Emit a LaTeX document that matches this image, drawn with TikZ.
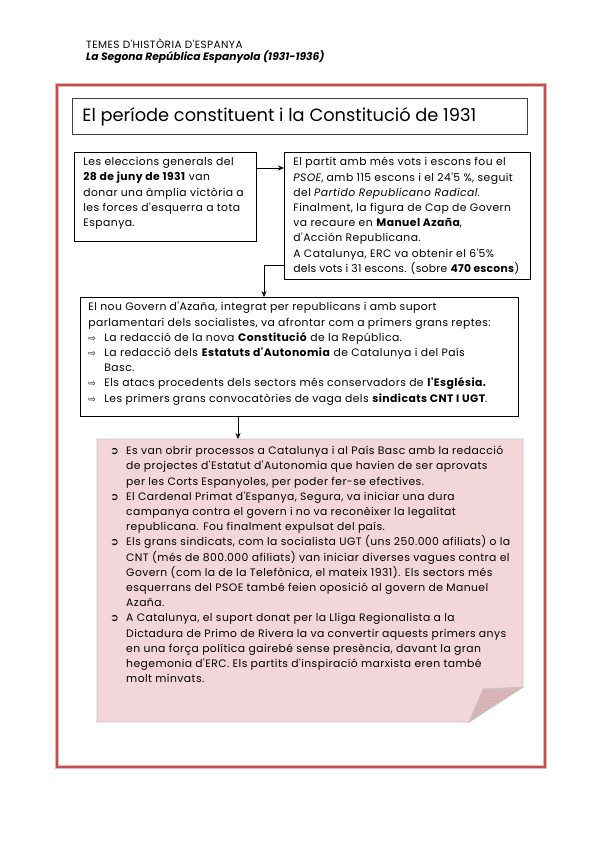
\documentclass[tikz,border=0pt]{standalone}
\usepackage{fontspec}
\setmainfont{Poppins}
\newfontfamily\cosfont{Poppins}[LetterSpace=4]
\newfontfamily\symfont{DejaVu Sans}
\usetikzlibrary{arrows.meta,patterns}

\definecolor{marcvermell}{RGB}{192,80,77}
\definecolor{marcclar}{RGB}{232,178,176}
\definecolor{rosa}{RGB}{242,214,217}
\definecolor{rosafosc}{RGB}{214,184,188}
\definecolor{vora}{RGB}{195,195,195}

\tikzset{
  caixa/.style={draw=black, line width=0.8pt, anchor=north west, inner ysep=5pt},
  fletxa/.style={-{Stealth[length=6pt,width=5pt]}, line width=0.6pt},
  cos/.style={font=\cosfont\fontsize{10.8}{15.2}\selectfont},
}
\newcommand{\fl}{\makebox[16pt][l]{{\symfont\fontsize{9}{9}\selectfont ⇨}}}
\newcommand{\bala}{\makebox[16pt][l]{{\symfont\fontsize{10.5}{10}\selectfont ➲}}}
\newcommand{\caixatext}[3]{\parbox[c][#2][t]{#1}{\raggedright #3}}

\begin{document}
\begin{tikzpicture}[x=1pt,y=-1pt]
\useasboundingbox (0,0) rectangle (599,848);

% capcalera
\node[anchor=west, inner sep=0pt, font=\cosfont\fontsize{10.5}{12}\selectfont] (capa) at (86,44) {TEMES D'HISTÒRIA D'ESPANYA};
\node[anchor=west, inner sep=0pt, font=\fontsize{10.7}{12}\selectfont\bfseries\itshape] (capb) at (86,57) {La Segona República Espanyola (1931-1936)};

% marc
\draw[marcclar, line width=3.2pt] (57,85) rectangle (545,767);
\draw[marcvermell, line width=1.6pt] (57,85) rectangle (545,767);

% titol
\node[draw=black!75, line width=0.8pt, anchor=north west, minimum width=455pt, minimum height=36pt,
      inner xsep=10pt, font=\fontsize{17.8}{20}\selectfont] (titol) at (72,98)
  {\makebox[435pt][l]{El període constituent i la Constitució de 1931}};

% caixes
\node[caixa, cos, inner xsep=9pt] (eleccions) at (74,152)
  {\caixatext{164pt}{79pt}{Les eleccions generals del\\
  \textbf{28 de juny de 1931} van\\
  donar una àmplia victòria a\\
  les forces d'esquerra a tota\\
  Espanya.}};

\node[caixa, cos, inner xsep=9pt] (partit) at (284,152)
  {\caixatext{228pt}{117pt}{El partit amb més vots i escons fou el\\
  \textit{PSOE}, amb 115 escons i el 24'5 \%, seguit\\
  del \textit{Partido Republicano Radical}.\\
  Finalment, la figura de Cap de Govern\\
  va recaure en \textbf{Manuel Azaña},\\
  d'Acción Republicana.\\
  A Catalunya, ERC va obtenir el 6'5\%\\
  \mbox{\addfontfeature{LetterSpace=2}dels vots i 31 escons. (sobre \textbf{470 escons})}}};

\node[caixa, cos, inner xsep=8pt] (govern) at (80,297)
  {\caixatext{422pt}{109pt}{El nou Govern d'Azaña, integrat per republicans i amb suport\\
  parlamentari dels socialistes, va afrontar com a primers grans reptes:\\
  \fl La redacció de la nova \textbf{Constitució} de la República.\\
  \fl La redacció dels \textbf{Estatuts d'Autonomia} de Catalunya i del País\\
  \hspace*{16pt}Basc.\\
  \fl Els atacs procedents dels sectors més conservadors de \textbf{l'Església.}\\
  \fl Les primers grans convocatòries de vaga dels \textbf{sindicats CNT I UGT}.}};

% nota rosa
\coordinate (rosatop) at (238,439);
\fill[rosa] (97,439) -- (523,439) -- (523,687) -- (469,722) -- (97,722) -- cycle;
\draw[vora, line width=0.8pt] (97,439) -- (523,439) -- (523,687) -- (469,722) -- (97,722) -- cycle;
\filldraw[fill=rosafosc, draw=vora, line width=0.6pt] (523,687) -- (483,689) -- (469,722) -- cycle;
\fill[pattern=dots, pattern color=red!55] (520,689) -- (485,691) -- (472,718) -- cycle;

\node[cos, anchor=north west, inner sep=0pt] (reptes) at (110,446)
  {\caixatext{405pt}{260pt}{\bala Es van obrir processos a Catalunya i al País Basc amb la redacció\\
  \hspace*{16pt}de projectes d'Estatut d'Autonomia que havien de ser aprovats\\
  \hspace*{16pt}per les Corts Espanyoles, per poder fer-se efectives.\\
  \bala El Cardenal Primat d'Espanya, Segura, va iniciar una dura\\
  \hspace*{16pt}campanya contra el govern i no va reconèixer la legalitat\\
  \hspace*{16pt}republicana. Fou finalment expulsat del país.\\
  \bala Els grans sindicats, com la socialista UGT (uns 250.000 afiliats) o la\\
  \hspace*{16pt}CNT (més de 800.000 afiliats) van iniciar diverses vagues contra el\\
  \hspace*{16pt}Govern (com la de la Telefònica, el mateix 1931). Els sectors més\\
  \hspace*{16pt}esquerrans del PSOE també feien oposició al govern de Manuel\\
  \hspace*{16pt}Azaña.\\
  \bala A Catalunya, el suport donat per la Lliga Regionalista a la\\
  \hspace*{16pt}Dictadura de Primo de Rivera la va convertir aquests primers anys\\
  \hspace*{16pt}en una força política gairebé sense presència, davant la gran\\
  \hspace*{16pt}hegemonia d'ERC. Els partits d'inspiració marxista eren també\\
  \hspace*{16pt}molt minvats.}};

% connectors
\draw[fletxa] ([yshift=-16pt]eleccions.north east) -- ([yshift=-16pt]eleccions.north east -| partit.west);
\draw[fletxa] ([yshift=15pt]partit.south west) -| ([xshift=184pt]govern.north west);
\draw[fletxa] (govern.south -| rosatop) -- (rosatop);

\end{tikzpicture}
\end{document}
